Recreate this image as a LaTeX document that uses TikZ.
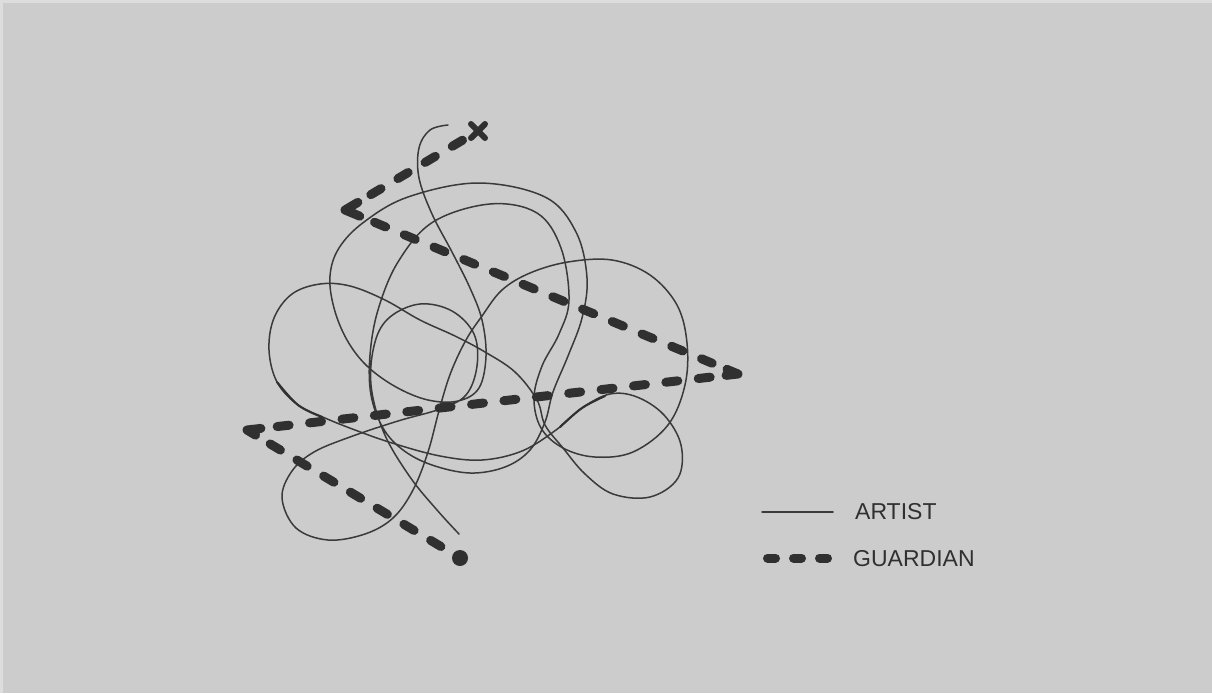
\documentclass[tikz,border=0pt]{standalone}
\usepackage{fontspec}
\setmainfont{Liberation Sans}
\usetikzlibrary{calc}
\definecolor{bg}{HTML}{CCCCCC}
\definecolor{bgedge}{HTML}{DDDDDD}
\definecolor{ink}{HTML}{303030}
\definecolor{pen}{HTML}{3A3A3A}
\begin{document}
\begin{tikzpicture}[x=1pt,y=-1pt,
  artist/.style={draw=pen,line width=1.5pt,line cap=round,line join=round},
  artistdark/.style={draw=ink,line width=2.1pt,line cap=round},
  guard/.style={draw=ink,line width=9pt,line cap=round,dash pattern=on 12pt off 21pt},
  guardsolid/.style={draw=ink,line width=9pt,line cap=round,line join=round},
  xmark/.style={draw=ink,line width=6pt,line cap=round},
  dotmark/.style={circle,fill=ink,minimum size=16pt,inner sep=0pt},
  lbl/.style={font=\fontsize{23}{23}\selectfont,text=ink,inner sep=0pt,anchor=base west}]
\useasboundingbox (0,0) rectangle (1212,693);
\fill[bgedge] (0,0) rectangle (1212,693);
\fill[bg] (3,3) rectangle (1212,693);

% ---------------- artist scribble ----------------
\draw[artist] plot[smooth,tension=0.6] coordinates {
(448,125) (430,130) (419,148) (419,178) (432,214) (452,252) (470,288) (482,320)
(486,356) (479,388) (458,401) (428,400) (396,387) (367,366) (347,340) (334,308)
(330,276) (339,248) (364,222) (408,197) (478,183) (545,197) (576,232) (587,278)
(582,318) (568,356) (553,392) (545,422) (530,450) (505,467) (470,473) (432,465)
(403,450) (383,428) (371,395) (370,355) (378,310) (398,262) (433,222) (490,204)
(537,213) (561,248) (569,300) (559,334) (542,366) (534,398) (541,428) (563,448)
(595,457) (633,452) (668,425) (685,385) (687,343) (677,305) (650,275) (612,260)
(568,262) (530,273) (502,290) (482,316) (466,340) (451,372) (440,407) (428,452)
(413,490) (393,518) (365,534) (328,540) (296,528) (282,498) (292,471) (314,452)
(350,437) (398,421) (440,409) (466,395) (477,366) (474,334) (452,311) (420,304)
(390,317) (375,342) (371,385) (384,433) (410,477) (437,510) (459,534)};

\draw[artist] plot[smooth cycle,tension=0.6] coordinates {
(537,400) (515,372) (485,352) (455,336) (420,320) (385,300) (350,286) (320,284)
(292,294) (274,318) (269,350) (277,382) (298,405) (325,418) (355,430) (392,443)
(440,456) (482,460) (522,451) (556,430) (582,408) (610,394) (637,397) (664,415)
(681,445) (678,478) (650,497) (613,494) (585,474) (563,448) (545,425)};

\draw[artistdark] plot[smooth,tension=0.6] coordinates {(277,382) (298,405) (322,417)};
\draw[artistdark] plot[smooth,tension=0.6] coordinates {(560,427) (582,408) (605,396)};

% ---------------- guardian path ----------------
\coordinate (x0) at (478,131);
\coordinate (c1) at (345,210);
\coordinate (c2) at (738,374);
\coordinate (c3) at (247,430);
\node[dotmark] (dotn) at (460,558) {};

\draw[xmark] ($(x0)+(-7,-7)$) -- ($(x0)+(7,7)$);
\draw[xmark] ($(x0)+(7,-7)$) -- ($(x0)+(-7,7)$);

\draw[guardsolid] ($(c1)!15pt!(x0)$) -- (c1) -- ($(c1)!16pt!(c2)$);
\draw[guardsolid] ($(c2)!12pt!(c1)$) -- (c2) -- ($(c2)!12pt!(c3)$);
\draw[guardsolid] ($(c3)!14pt!(c2)$) -- (c3) -- ($(c3)!10pt!(dotn)$);

\draw[guard,dash pattern=on 12pt off 19.6pt,shorten <=18pt,shorten >=30pt] (x0) -- (c1);
\draw[guard,dash pattern=on 12pt off 20.2pt,shorten <=32pt,shorten >=28pt] (c1) -- (c2);
\draw[guard,dash pattern=on 12pt off 20.6pt,shorten <=28pt,shorten >=30pt] (c2) -- (c3);
\draw[guard,dash pattern=on 12pt off 19.2pt,shorten <=27pt,shorten >=14pt] (c3) -- (dotn);

% ---------------- legend ----------------
\coordinate (la1) at (762,512);
\coordinate (la2) at (833,512);
\draw[artist] (la1) -- (la2);
\node[lbl] (lartist) at (855,519.5) {ARTIST};

\coordinate (lg1) at (767.5,558);
\coordinate (lg2) at (828.5,558);
\draw[guard,dash pattern=on 8pt off 18pt] (lg1) -- (lg2);
\node[lbl] (lguard) at (853,566) {GUARDIAN};
\end{tikzpicture}
\end{document}
